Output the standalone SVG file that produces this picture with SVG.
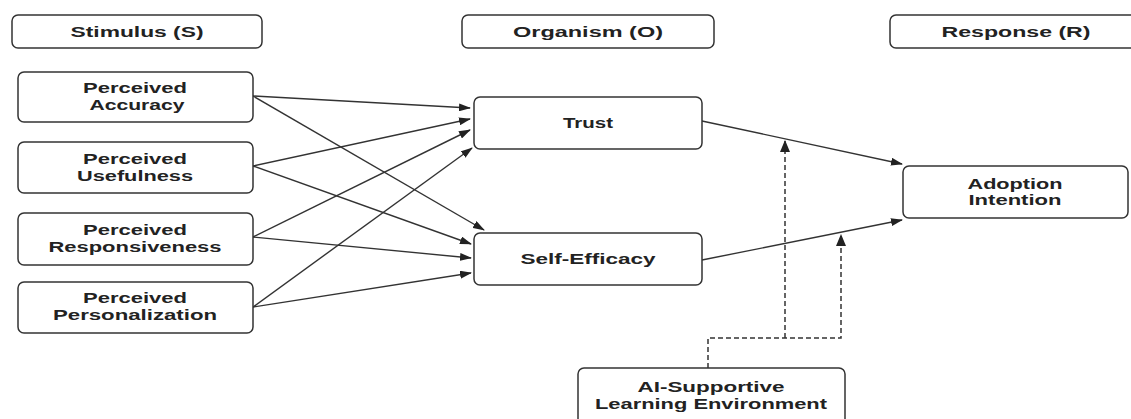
<svg xmlns="http://www.w3.org/2000/svg" width="1131" height="419" viewBox="0 0 1131 419">
<defs>
<style>
.box{fill:#fff;stroke:#333;stroke-width:1.5}
.t{font-family:"Liberation Sans",Arial,sans-serif;font-weight:bold;font-size:14px;fill:#222;text-anchor:middle}
.c{stroke:#333;stroke-width:1.4;fill:none}
.d{stroke:#333;stroke-width:1.5;fill:none;stroke-dasharray:5 3}
</style>
<marker id="ah" markerWidth="12" markerHeight="8" refX="11" refY="4" orient="auto" markerUnits="userSpaceOnUse">
<path d="M0,0 L12,4 L0,8 Z" fill="#222"/>
</marker>
</defs>
<rect width="1131" height="419" fill="#fff"/>

<g id="connectors">
<line class="c" x1="253" y1="96" x2="470" y2="108" marker-end="url(#ah)"/>
<line class="c" x1="253" y1="96" x2="484" y2="230" marker-end="url(#ah)"/>
<line class="c" x1="253" y1="166" x2="470" y2="119" marker-end="url(#ah)"/>
<line class="c" x1="253" y1="166" x2="471" y2="244" marker-end="url(#ah)"/>
<line class="c" x1="253" y1="237" x2="470" y2="130" marker-end="url(#ah)"/>
<line class="c" x1="253" y1="237" x2="471" y2="258" marker-end="url(#ah)"/>
<line class="c" x1="253" y1="307" x2="472" y2="148" marker-end="url(#ah)"/>
<line class="c" x1="253" y1="307" x2="471" y2="273" marker-end="url(#ah)"/>
<line class="c" x1="702" y1="121" x2="902" y2="164" marker-end="url(#ah)"/>
<line class="c" x1="702" y1="260" x2="902" y2="220" marker-end="url(#ah)"/>
<polyline class="d" points="708,368 708,338 841,338 841,236"/>
<line class="d" x1="785" y1="338" x2="785" y2="141"/>
<path d="M780,152 L785,140 L790,152 Z" fill="#222"/>
<path d="M836,246 L841,234 L846,246 Z" fill="#222"/>
</g>

<g id="stimulus-header">
<rect class="box" x="12" y="15" width="250" height="33" rx="6"/>
<text class="t" x="137" y="37" textLength="133" lengthAdjust="spacingAndGlyphs">Stimulus (S)</text>
</g>
<g id="organism-header">
<rect class="box" x="462" y="15" width="252" height="33" rx="6"/>
<text class="t" x="588" y="37" textLength="150" lengthAdjust="spacingAndGlyphs">Organism (O)</text>
</g>
<g id="response-header">
<rect class="box" x="890" y="15" width="252" height="33" rx="6"/>
<text class="t" x="1016" y="37" textLength="149" lengthAdjust="spacingAndGlyphs">Response (R)</text>
</g>

<g id="perceived-accuracy">
<rect class="box" x="18" y="72" width="235" height="50" rx="6"/>
<text class="t" x="135" y="93" textLength="104" lengthAdjust="spacingAndGlyphs">Perceived</text>
<text class="t" x="137" y="110" textLength="95" lengthAdjust="spacingAndGlyphs">Accuracy</text>
</g>
<g id="perceived-usefulness">
<rect class="box" x="18" y="142" width="235" height="51" rx="6"/>
<text class="t" x="135" y="164" textLength="104" lengthAdjust="spacingAndGlyphs">Perceived</text>
<text class="t" x="135" y="181" textLength="116" lengthAdjust="spacingAndGlyphs">Usefulness</text>
</g>
<g id="perceived-responsiveness">
<rect class="box" x="18" y="213" width="235" height="52" rx="6"/>
<text class="t" x="135" y="235" textLength="104" lengthAdjust="spacingAndGlyphs">Perceived</text>
<text class="t" x="135" y="252" textLength="173" lengthAdjust="spacingAndGlyphs">Responsiveness</text>
</g>
<g id="perceived-personalization">
<rect class="box" x="18" y="282" width="235" height="51" rx="6"/>
<text class="t" x="135" y="303" textLength="104" lengthAdjust="spacingAndGlyphs">Perceived</text>
<text class="t" x="135" y="320" textLength="164" lengthAdjust="spacingAndGlyphs">Personalization</text>
</g>

<g id="trust">
<rect class="box" x="474" y="97" width="228" height="52" rx="6"/>
<text class="t" x="588" y="128" textLength="50" lengthAdjust="spacingAndGlyphs">Trust</text>
</g>
<g id="self-efficacy">
<rect class="box" x="474" y="233" width="228" height="52" rx="6"/>
<text class="t" x="588" y="264" textLength="135" lengthAdjust="spacingAndGlyphs">Self-Efficacy</text>
</g>

<g id="adoption-intention">
<rect class="box" x="903" y="166" width="225" height="52" rx="6"/>
<text class="t" x="1015" y="189" textLength="95" lengthAdjust="spacingAndGlyphs">Adoption</text>
<text class="t" x="1015" y="205" textLength="93" lengthAdjust="spacingAndGlyphs">Intention</text>
</g>

<g id="ai-supportive-environment">
<rect class="box" x="578" y="368" width="267" height="60" rx="6"/>
<text class="t" x="711" y="392" textLength="147" lengthAdjust="spacingAndGlyphs">AI-Supportive</text>
<text class="t" x="711" y="409" textLength="232" lengthAdjust="spacingAndGlyphs">Learning Environment</text>
</g>
</svg>
